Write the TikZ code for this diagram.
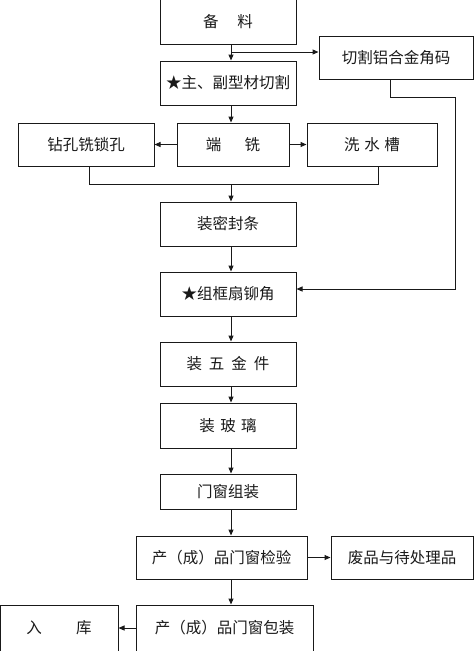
\documentclass[tikz,border=0pt]{standalone}
\usepackage{fontspec}
\setmainfont{Noto Sans CJK SC}
\usetikzlibrary{arrows.meta}
\definecolor{ink}{gray}{0.1}
\tikzset{
  box/.style={draw=ink, line width=1pt, inner sep=0pt, text=ink,
    font=\fontsize{15.5}{17}\selectfont},
  arr/.style={draw=ink, line width=1pt, -{Triangle[length=6pt,width=5pt]}},
  ln/.style={draw=ink, line width=1pt}
}
\begin{document}
\begin{tikzpicture}[x=1pt,y=-1pt]
\useasboundingbox (0,0) rectangle (474,651);
\node[box, minimum width=136pt, minimum height=45pt] (b1) at (228,21.5) {备\hspace{1.2em}料};
\node[box, minimum width=154pt, minimum height=43pt] (b2) at (396,57.5) {切割铝合金角码};
\node[box, minimum width=136pt, minimum height=44pt] (b3) at (228,83) {★主、副型材切割};
\node[box, minimum width=136pt, minimum height=43pt] (b4) at (86,144.5) {钻孔铣锁孔};
\node[box, minimum width=112pt, minimum height=43pt] (b5) at (233,144.5) {端\hspace{1.5em}铣};
\node[box, minimum width=130pt, minimum height=43pt] (b6) at (372,144.5) {洗\hspace{0.3em}水\hspace{0.3em}槽};
\node[box, minimum width=136pt, minimum height=44pt] (b7) at (228,224) {装密封条};
\node[box, minimum width=136pt, minimum height=44pt] (b8) at (228,294) {★组框扇铆角};
\node[box, minimum width=136pt, minimum height=44pt] (b9) at (228,364) {装\hspace{0.45em}五\hspace{0.45em}金\hspace{0.45em}件};
\node[box, minimum width=136pt, minimum height=45pt] (b10) at (228,425.5) {装\hspace{0.35em}玻\hspace{0.35em}璃};
\node[box, minimum width=136pt, minimum height=35pt] (b11) at (228,491.5) {门窗组装};
\node[box, minimum width=171pt, minimum height=43pt] (b12) at (221.5,557.5) {产（成）品门窗检验};
\node[box, minimum width=142pt, minimum height=43pt] (b13) at (402,557.5) {废品与待处理品};
\node[box, minimum width=177pt, minimum height=46pt] (b14) at (224.5,628) {产（成）品门窗包装};
\node[box, minimum width=118pt, minimum height=46pt] (b15) at (59,628) {入\hspace{2.2em}库};
\coordinate (sp) at (231,0);
\coordinate (j1) at (231,52);
\coordinate (j2) at (89,184);
\coordinate (j3) at (378,184);
\coordinate (k1) at (390,97);
\coordinate (k2) at (455,97);
\coordinate (k3) at (455,289);
\draw[arr] (b1.south -| sp) -- (b3.north -| sp);
\draw[arr] (j1) -- (j1 -| b2.west);
\draw[arr] (b3.south -| sp) -- (b5.north -| sp);
\draw[arr] (b5.west) -- (b4.east);
\draw[arr] (b5.east) -- (b6.west);
\draw[ln] (b4.south -| j2) -- (j2) -- (j3) -- (b6.south -| j3);
\draw[arr] (j2 -| sp) -- (b7.north -| sp);
\draw[arr] (b7.south -| sp) -- (b8.north -| sp);
\draw[arr] (b8.south -| sp) -- (b9.north -| sp);
\draw[arr] (b9.south -| sp) -- (b10.north -| sp);
\draw[arr] (b10.south -| sp) -- (b11.north -| sp);
\draw[arr] (b11.south -| sp) -- (b12.north -| sp);
\draw[arr] (b12.south -| sp) -- (b14.north -| sp);
\draw[arr] (b2.south -| k1) -- (k1) -- (k2) -- (k3) -- (k3 -| b8.east);
\draw[arr] (b12.east) -- (b13.west);
\draw[arr] (b14.west) -- (b15.east);
\end{tikzpicture}
\end{document}
